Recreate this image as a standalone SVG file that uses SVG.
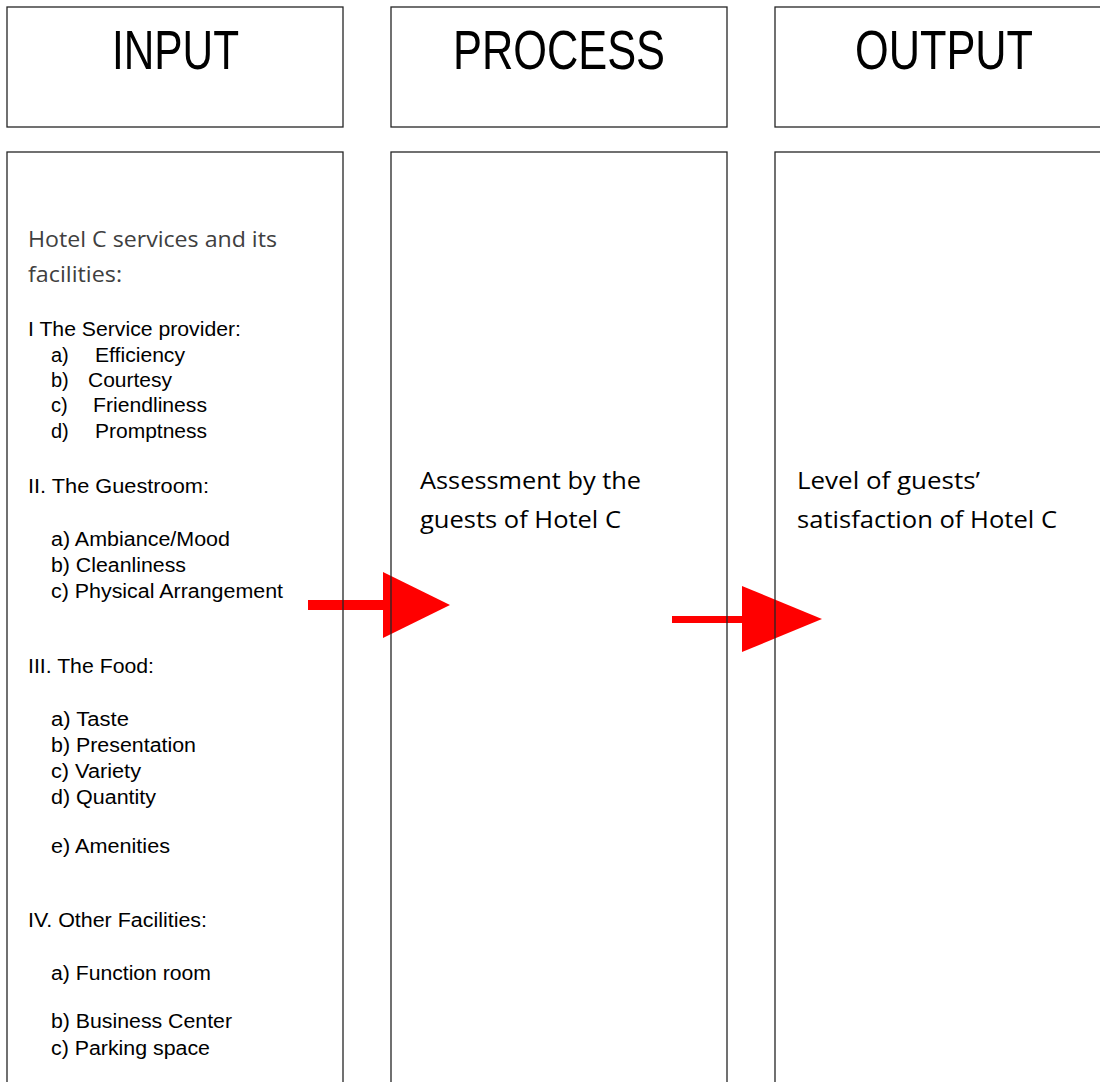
<svg xmlns="http://www.w3.org/2000/svg" width="1100" height="1082" viewBox="0 0 1100 1082">
  <style>
    .box { fill: none; stroke: #262626; stroke-width: 1.3; }
    .head { font-family: "Liberation Sans", Arial, sans-serif; font-size: 56px; fill: #000; }
    .cal { font-family: "Open Sans", "Noto Sans", sans-serif; font-size: 22px; fill: #000; }
    .ari { font-family: "Liberation Sans", Arial, sans-serif; font-size: 20px; fill: #000; }
    .arrow { fill: #ff0000; }
  </style>
  <rect x="0" y="0" width="1100" height="1082" fill="#fff"/>

  <g id="connectors">
    <g id="arrow-input-process">
      <rect class="arrow" x="308" y="600" width="77" height="10"/>
      <polygon class="arrow" points="383,572 450,605 383,638"/>
    </g>
    <g id="arrow-process-output">
      <rect class="arrow" x="672" y="616" width="72" height="7"/>
      <polygon class="arrow" points="742,586 822,619 742,652"/>
    </g>
  </g>

  <g id="input-header">
    <rect class="box" x="7" y="7" width="336" height="120"/>
    <text class="head" x="112" y="69" textLength="127" lengthAdjust="spacingAndGlyphs">INPUT</text>
  </g>
  <g id="process-header">
    <rect class="box" x="391" y="7" width="336" height="120"/>
    <text class="head" x="453" y="69" textLength="212" lengthAdjust="spacingAndGlyphs">PROCESS</text>
  </g>
  <g id="output-header">
    <rect class="box" x="775" y="7" width="400" height="120"/>
    <text class="head" x="855" y="69" textLength="178" lengthAdjust="spacingAndGlyphs">OUTPUT</text>
  </g>

  <g id="input-body">
    <rect class="box" x="7" y="152" width="336" height="1000"/>
    <text class="cal" x="28" y="247" style="fill:#404040" textLength="249" lengthAdjust="spacingAndGlyphs">Hotel C services and its</text>
    <text class="cal" x="28" y="282" style="fill:#404040" textLength="94" lengthAdjust="spacingAndGlyphs">facilities:</text>

    <text class="ari" x="28" y="336" textLength="213" lengthAdjust="spacingAndGlyphs">I The Service provider:</text>
    <text class="ari" y="362"><tspan x="51">a)</tspan><tspan x="95" textLength="90" lengthAdjust="spacingAndGlyphs">Efficiency</tspan></text>
    <text class="ari" y="387"><tspan x="51">b)</tspan><tspan x="88" textLength="84" lengthAdjust="spacingAndGlyphs">Courtesy</tspan></text>
    <text class="ari" y="412"><tspan x="51">c)</tspan><tspan x="93" textLength="114" lengthAdjust="spacingAndGlyphs">Friendliness</tspan></text>
    <text class="ari" y="438"><tspan x="51">d)</tspan><tspan x="95" textLength="112" lengthAdjust="spacingAndGlyphs">Promptness</tspan></text>

    <text class="ari" x="28" y="493" textLength="181" lengthAdjust="spacingAndGlyphs">II. The Guestroom:</text>
    <text class="ari" x="51" y="546" textLength="179" lengthAdjust="spacingAndGlyphs">a) Ambiance/Mood</text>
    <text class="ari" x="51" y="572" textLength="135" lengthAdjust="spacingAndGlyphs">b) Cleanliness</text>
    <text class="ari" x="51" y="598" textLength="232" lengthAdjust="spacingAndGlyphs">c) Physical Arrangement</text>

    <text class="ari" x="28" y="673" textLength="126" lengthAdjust="spacingAndGlyphs">III. The Food:</text>
    <text class="ari" x="51" y="726" textLength="78" lengthAdjust="spacingAndGlyphs">a) Taste</text>
    <text class="ari" x="51" y="752" textLength="145" lengthAdjust="spacingAndGlyphs">b) Presentation</text>
    <text class="ari" x="51" y="778" textLength="90" lengthAdjust="spacingAndGlyphs">c) Variety</text>
    <text class="ari" x="51" y="804" textLength="105" lengthAdjust="spacingAndGlyphs">d) Quantity</text>
    <text class="ari" x="51" y="853" textLength="119" lengthAdjust="spacingAndGlyphs">e) Amenities</text>

    <text class="ari" x="28" y="927" textLength="179" lengthAdjust="spacingAndGlyphs">IV. Other Facilities:</text>
    <text class="ari" x="51" y="980" textLength="160" lengthAdjust="spacingAndGlyphs">a) Function room</text>
    <text class="ari" x="51" y="1028" textLength="181" lengthAdjust="spacingAndGlyphs">b) Business Center</text>
    <text class="ari" x="51" y="1055" textLength="159" lengthAdjust="spacingAndGlyphs">c) Parking space</text>
  </g>

  <g id="process-body">
    <rect class="box" x="391" y="152" width="336" height="1000"/>
    <text class="cal" x="420" y="489" style="font-size:24px" textLength="221" lengthAdjust="spacingAndGlyphs">Assessment by the</text>
    <text class="cal" x="420" y="528" style="font-size:24px" textLength="201" lengthAdjust="spacingAndGlyphs">guests of Hotel C</text>
  </g>

  <g id="output-body">
    <rect class="box" x="775" y="152" width="400" height="1000"/>
    <text class="cal" x="797" y="489" style="font-size:24px" textLength="183" lengthAdjust="spacingAndGlyphs">Level of guests’</text>
    <text class="cal" x="797" y="528" style="font-size:24px" textLength="260" lengthAdjust="spacingAndGlyphs">satisfaction of Hotel C</text>
  </g>
</svg>
